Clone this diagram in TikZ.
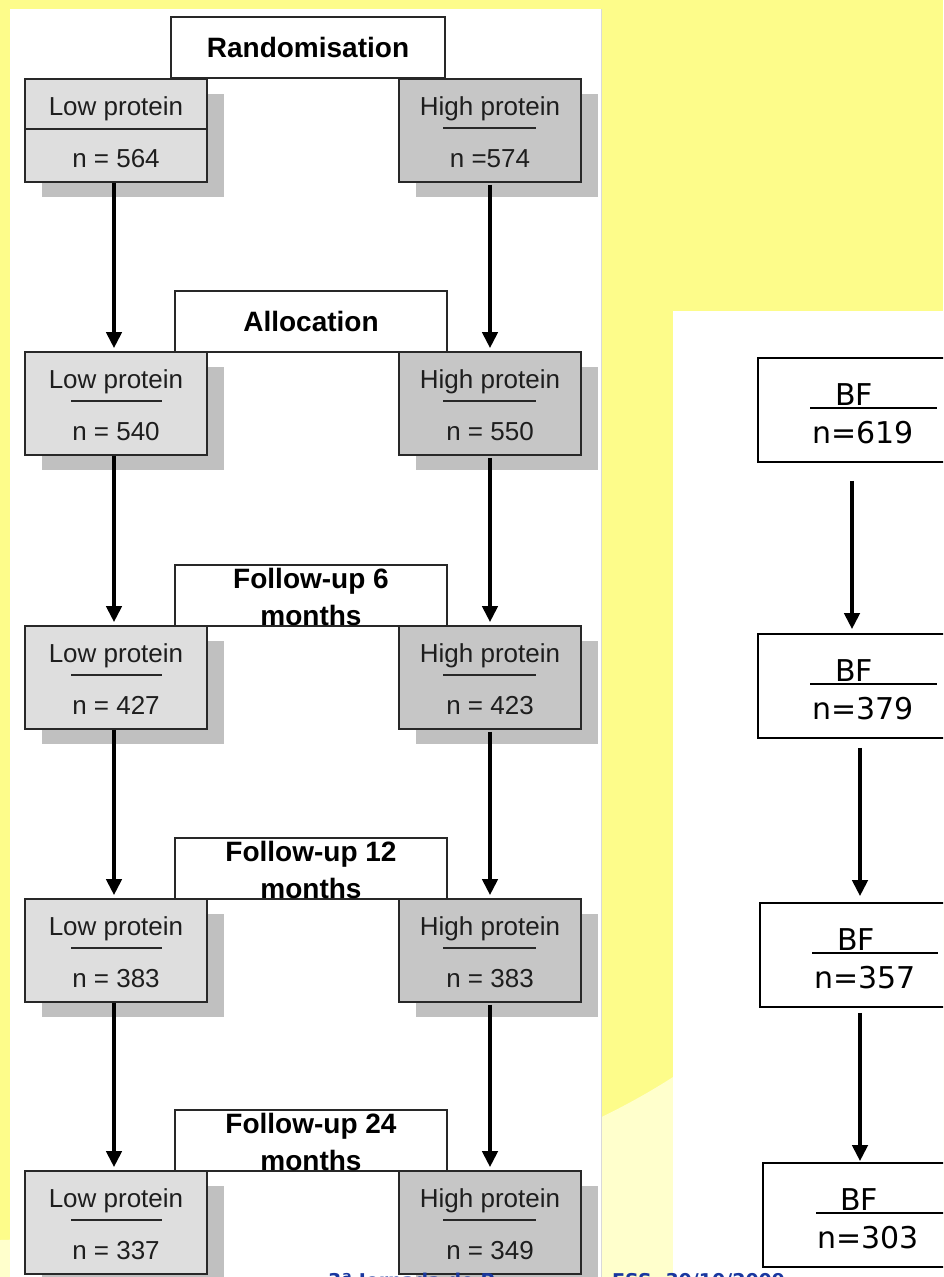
\documentclass[tikz,border=0pt]{standalone}
\usepackage{fontspec}
\setmainfont{Liberation Sans}
\newfontfamily\dvfont{DejaVu Sans}
\usetikzlibrary{arrows.meta,shadows}
\definecolor{bgyellow}{RGB}{253,252,138}
\definecolor{paleyellow}{RGB}{255,255,204}
\definecolor{lowfill}{RGB}{222,222,222}
\definecolor{highfill}{RGB}{198,198,198}
\definecolor{shadowgray}{RGB}{192,192,192}
\definecolor{boxline}{RGB}{40,40,40}
\definecolor{txt}{RGB}{30,30,30}
\definecolor{footblue}{RGB}{25,55,160}
\begin{document}
\begin{tikzpicture}[x=1pt,y=-1pt,
 grpbox/.style={draw=boxline,line width=1.6pt,minimum width=182pt,minimum height=103pt,inner sep=0pt,
   drop shadow={shadow xshift=17pt,shadow yshift=-15pt,opacity=1,fill=shadowgray}},
 lowbox/.style={grpbox,fill=lowfill},
 highbox/.style={grpbox,fill=highfill},
 stagebox/.style={draw=boxline,fill=white,line width=1.6pt,minimum width=272pt,minimum height=61pt,inner sep=0pt},
 grptext/.style={font=\fontsize{26}{30}\selectfont,text=txt,inner sep=0pt,anchor=base},
 stagetext/.style={font=\fontsize{28}{37}\selectfont\bfseries,text=black,align=center,inner sep=0pt},
 rule/.style={draw=boxline,line width=1.5pt},
 flow/.style={line width=4pt,-{Triangle[width=15pt,length=16pt]}},
 bfbox/.style={draw=black,line width=1.6pt,fill=white,minimum height=104pt,minimum width=200pt,inner sep=0pt},
 bftext/.style={font=\dvfont\fontsize{30}{34}\selectfont,inner sep=0pt,anchor=base west},
 foot/.style={font=\dvfont\bfseries\fontsize{19}{22}\selectfont,text=footblue,inner sep=0pt,anchor=base west}
]
\useasboundingbox (0,0) rectangle (943,1277);
\clip (0,0) rectangle (943,1277);
% background
\fill[bgyellow] (0,0) rectangle (943,1277);
\fill[paleyellow] (0,1277) -- (0,1240) .. controls (350,1230) and (560,1150) .. (673,1077) -- (943,900) -- (943,1277) -- cycle;
\fill[white] (10,9) rectangle (601,1277);
\draw[black!15,line width=1pt] (601,9) -- (601,1277);
\fill[white] (673,311) rectangle (943,1277);

% stage boxes
\node[stagebox,minimum width=274pt] (rand) at (308,47.5) {};
\node[stagetext] at (rand) {Randomisation};
\node[stagebox] (alloc) at (311,321.5) {};
\node[stagetext] at (alloc) {Allocation};
\node[stagebox] (fu6) at (311,595.5) {};
\node[stagetext] at (311,597) {Follow-up 6\\months};
\node[stagebox] (fu12) at (311,868.5) {};
\node[stagetext] at (311,870) {Follow-up 12\\months};
\node[stagebox] (fu24) at (311,1140.5) {};
\node[stagetext] at (311,1142) {Follow-up 24\\months};

% group boxes
\foreach \k/\T/\lown/\highn in {1/79/n = 564/n =574, 2/352/n = 540/n = 550, 3/626/n = 427/n = 423, 4/899/n = 383/n = 383, 5/1171/n = 337/n = 349}{
  \node[lowbox] (L\k) at (116,\T+51.5) {};
  \node[highbox] (H\k) at (490,\T+51.5) {};
  \node[grptext] (Lt\k) at (116,\T+36) {Low protein};
  \node[grptext] (Ln\k) at (116,\T+88) {\lown};
  \node[grptext] (Ht\k) at (490,\T+36) {High protein};
  \node[grptext] (Hn\k) at (490,\T+88) {\highn};
  \draw[rule] (443,\T+49) -- (536,\T+49);
}
\draw[rule] (L1.west |- 0,129) -- (L1.east |- 0,129);
\foreach \T in {352,626,899,1171}{
  \draw[rule] (71,\T+49) -- (162,\T+49);
}

% arrows left panel
\foreach \a/\b in {1/2,2/3,3/4,4/5}{
  \draw[flow] ([xshift=-2pt]L\a.south) -- ([xshift=-2pt,yshift=3pt]L\b.north);
  \draw[flow] ([yshift=-2pt]H\a.south) -- ([yshift=3pt]H\b.north);
}

% right panel
\node[bfbox] (B1) at (858,410) {};
\node[bfbox] (B2) at (858,686) {};
\node[bfbox] (B3) at (860,955) {};
\node[bfbox] (B4) at (863,1215) {};
\node[bftext] at (835,405) {BF};
\draw[black,line width=2pt] (810,408) -- (937,408);
\node[bftext] at (812,443) {n=619};
\node[bftext] at (835,681) {BF};
\draw[black,line width=2pt] (810,684) -- (937,684);
\node[bftext] at (812,719) {n=379};
\node[bftext] at (837,950) {BF};
\draw[black,line width=2pt] (812,953) -- (938,953);
\node[bftext] at (814,988) {n=357};
\node[bftext] at (840,1210) {BF};
\draw[black,line width=2pt] (816,1213) -- (950,1213);
\node[bftext] at (817,1248) {n=303};

\coordinate (a1s) at ([xshift=-6pt,yshift=-18pt]B1.south);
\draw[flow] (a1s) -- ([yshift=4pt]B2.north -| a1s);
\coordinate (a2s) at ([xshift=2pt,yshift=-9pt]B2.south);
\draw[flow] (a2s) -- ([yshift=6pt]B3.north -| a2s);
\coordinate (a3s) at ([yshift=-5pt]B3.south);
\draw[flow] (a3s) -- ([yshift=1pt]B4.north -| a3s);

% footer (cut off at the bottom edge, as in the reference)
\node[foot] at (328,1287) {3ª Jornada de P};
\node[foot] at (612,1287) {ESS, 30/10/2009};
\end{tikzpicture}
\end{document}
